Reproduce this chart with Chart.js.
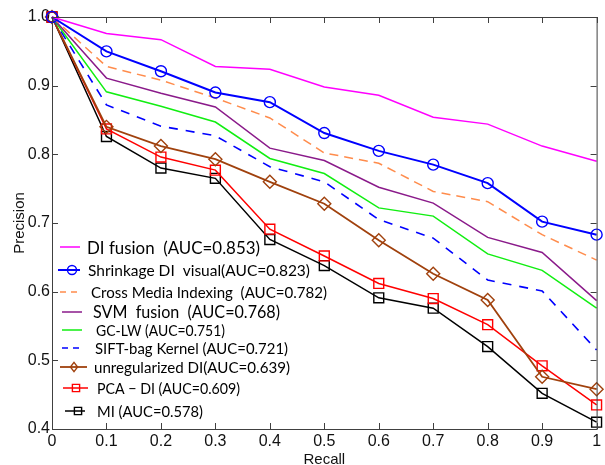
<!DOCTYPE html>
<html lang="en">
<head>
<meta charset="UTF-8">
<title>Precision vs Recall</title>
<script src="https://cdn.jsdelivr.net/npm/chart.js"></script>
<style>
  html, body { margin: 0; padding: 0; background: #fff; }
  #wrap { width: 605px; height: 465px; }
</style>
</head>
<body>
<div id="wrap"><canvas id="prChart" width="605" height="465"></canvas></div>
<script>
// recall axis (category labels) and precision ticks
const recallLabels = ['0', '0.1', '0.2', '0.3', '0.4', '0.5', '0.6', '0.7', '0.8', '0.9', '1'];
const yTickValues = [0.4, 0.5, 0.6, 0.7, 0.8, 0.9, 1];

const seriesNames = [
  'DI fusion  (AUC=0.853)',
  'Shrinkage DI  visual(AUC=0.823)',
  'Cross Media Indexing  (AUC=0.782)',
  'SVM  fusion  (AUC=0.768)',
  'GC-LW (AUC=0.751)',
  'SIFT-bag Kernel (AUC=0.721)',
  'unregularized DI(AUC=0.639)',
  'PCA \u2212 DI (AUC=0.609)',
  'MI (AUC=0.578)'
];

// precision
const diFusion     = [1, 0.976, 0.967, 0.928, 0.924, 0.898, 0.886, 0.854, 0.844, 0.812, 0.790];
const shrinkage    = [1, 0.950, 0.921, 0.890, 0.876, 0.831, 0.805, 0.785, 0.758, 0.702, 0.683];
const crossMedia   = [1, 0.928, 0.908, 0.882, 0.853, 0.802, 0.787, 0.746, 0.731, 0.683, 0.646];
const svmFusion    = [1, 0.911, 0.889, 0.869, 0.809, 0.791, 0.752, 0.729, 0.679, 0.657, 0.587];
const gcLw         = [1, 0.891, 0.870, 0.847, 0.794, 0.772, 0.722, 0.710, 0.655, 0.631, 0.576];
const siftBag      = [1, 0.872, 0.841, 0.827, 0.782, 0.760, 0.705, 0.678, 0.617, 0.601, 0.515];
const unregDI      = [1, 0.840, 0.812, 0.793, 0.760, 0.728, 0.675, 0.626, 0.588, 0.476, 0.458];
const pcaDI        = [1, 0.837, 0.796, 0.777, 0.691, 0.652, 0.612, 0.590, 0.552, 0.492, 0.435];
const miValues     = [1, 0.826, 0.780, 0.765, 0.676, 0.638, 0.591, 0.576, 0.520, 0.452, 0.410];

const seriesData = [diFusion, shrinkage, crossMedia, svmFusion, gcLw, siftBag, unregDI, pcaDI, miValues];

// look of each line
const lineStyles = [
  { color: '#ff00ff', width: 1.5, dash: [],     point: false },
  { color: '#0000ff', width: 2,   dash: [],     point: 'circle' },
  { color: '#ff8c4c', width: 1.5, dash: [9, 6], point: false },
  { color: '#8a1a8a', width: 1.5, dash: [],     point: false },
  { color: '#11ee11', width: 1.5, dash: [],     point: false },
  { color: '#0000ff', width: 1.6, dash: [9, 8], point: false },
  { color: '#a0410d', width: 1.8, dash: [],     point: 'rectRot' },
  { color: '#ff0000', width: 1.5, dash: [],     point: 'rect' },
  { color: '#000000', width: 1.5, dash: [],     point: 'rect' }
];

// legend placement (rows drawn inside the plot, lower left)
const legendRows = [
  { y: 247, x0: 60, x1: 80, mx: 70, tx: 87, w: 173, fs: 18 },
  { y: 270, x0: 58, x1: 80, mx: 72, tx: 88, w: 222, fs: 16 },
  { y: 292, x0: 60, x1: 80, mx: 70, tx: 91, w: 236, fs: 16 },
  { y: 312, x0: 62, x1: 82, mx: 72, tx: 93, w: 187, fs: 17 },
  { y: 330, x0: 62, x1: 82, mx: 72, tx: 96, w: 129, fs: 16 },
  { y: 348, x0: 62, x1: 82, mx: 72, tx: 95, w: 193, fs: 16 },
  { y: 367, x0: 60, x1: 87, mx: 74, tx: 94, w: 196, fs: 16 },
  { y: 388, x0: 63, x1: 88, mx: 76, tx: 97, w: 143, fs: 16 },
  { y: 411, x0: 65, x1: 85, mx: 78, tx: 97, w: 106, fs: 16 }
];

function drawMarker(ctx, style, x, y, r) {
  ctx.beginPath();
  if (style === 'circle') {
    ctx.arc(x, y, r, 0, Math.PI * 2);
  } else if (style === 'rect') {
    ctx.rect(x - r, y - r, 2 * r, 2 * r);
  } else if (style === 'rectRot') {
    ctx.moveTo(x, y - r * 1.3);
    ctx.lineTo(x + r, y);
    ctx.lineTo(x, y + r * 1.3);
    ctx.lineTo(x - r, y);
    ctx.closePath();
  }
  ctx.stroke();
}

const boxAndLegend = {
  id: 'boxAndLegend',
  afterDraw(chart) {
    const ctx = chart.ctx;
    const a = chart.chartArea;
    const xs = chart.scales.x, ys = chart.scales.y;
    ctx.save();
    // matlab style box with inward ticks
    ctx.strokeStyle = '#404040';
    ctx.lineWidth = 1;
    ctx.strokeRect(a.left + 0.5, a.top + 0.5, a.right - a.left, a.bottom - a.top);
    ctx.beginPath();
    xs.ticks.forEach((t, i) => {
      const px = Math.round(xs.getPixelForTick(i)) + 0.5;
      ctx.moveTo(px, a.bottom); ctx.lineTo(px, a.bottom - 6);
      ctx.moveTo(px, a.top); ctx.lineTo(px, a.top + 6);
    });
    ys.ticks.forEach(t => {
      const py = Math.round(ys.getPixelForValue(t.value)) + 0.5;
      ctx.moveTo(a.left, py); ctx.lineTo(a.left + 6, py);
      ctx.moveTo(a.right, py); ctx.lineTo(a.right - 6, py);
    });
    ctx.stroke();

    // legend
    legendRows.forEach((row, i) => {
      const st = lineStyles[i];
      ctx.strokeStyle = st.color;
      ctx.lineWidth = st.width;
      ctx.setLineDash(st.dash.length ? [6, 5] : []);
      ctx.beginPath();
      ctx.moveTo(row.x0, row.y); ctx.lineTo(row.x1, row.y);
      ctx.stroke();
      ctx.setLineDash([]);
      if (st.point) {
        ctx.lineWidth = 1.4;
        drawMarker(ctx, st.point, row.mx, row.y, st.point === 'circle' ? 4.5 : 3.6);
      }
      ctx.font = row.fs + 'px Lato';
      const m = ctx.measureText(seriesNames[i]).width;
      ctx.fillStyle = '#000';
      ctx.textBaseline = 'middle';
      ctx.textAlign = 'left';
      ctx.save();
      ctx.translate(row.tx, row.y + 1);
      ctx.scale(row.w / m, 1);
      ctx.fillText(seriesNames[i], 0, 0);
      ctx.restore();
    });
    ctx.restore();
  }
};

const datasets = seriesData.map((vals, i) => {
  const st = lineStyles[i];
  return {
    label: seriesNames[i],
    data: vals,
    borderColor: st.color,
    borderWidth: st.width,
    borderDash: st.dash,
    backgroundColor: 'transparent',
    pointStyle: st.point || 'circle',
    pointRadius: st.point ? (st.point === 'circle' ? 5.5 : (st.point === 'rectRot' ? 6.5 : 7)) : 0,
    pointBorderColor: st.color,
    pointBackgroundColor: 'transparent',
    pointBorderWidth: 1.4,
    tension: 0,
    fill: false,
    clip: false
  };
});

new Chart(document.getElementById('prChart'), {
  type: 'line',
  data: { labels: recallLabels, datasets: datasets },
  plugins: [boxAndLegend],
  options: {
    responsive: false,
    animation: false,
    layout: { padding: { top: 17, right: 6, left: 0, bottom: 0 } },
    plugins: { legend: { display: false }, tooltip: { enabled: false } },
    scales: {
      x: {
        type: 'category',
        offset: false,
        grid: { display: false, drawTicks: false },
        border: { display: false },
        ticks: {
          color: '#111', padding: 3, maxRotation: 0, autoSkip: false,
          font: { family: 'Liberation Sans', size: 16 }
        },
        title: {
          display: true, text: 'Recall', color: '#111', padding: { top: 0, bottom: -2 },
          font: { family: 'Liberation Sans', size: 15, lineHeight: 1 }
        },
        afterFit(scale) { scale.height = 36; }
      },
      y: {
        type: 'linear',
        min: 0.4, max: 1,
        grid: { display: false, drawTicks: false },
        border: { display: false },
        ticks: {
          color: '#111', padding: 2,
          font: { family: 'Liberation Sans', size: 16 }
        },
        afterBuildTicks(scale) {
          scale.ticks = yTickValues.map(v => ({ value: v }));
        },
        title: {
          display: true, text: 'Precision', color: '#111', padding: { top: 11, bottom: 0 },
          font: { family: 'Liberation Sans', size: 15 }
        },
        afterFit(scale) { scale.width = 52; }
      }
    }
  }
});
</script>
</body>
</html>
